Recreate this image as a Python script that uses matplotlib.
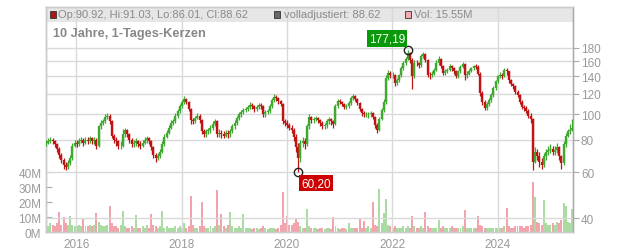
import matplotlib
matplotlib.use("Agg")
import matplotlib.pyplot as plt
from matplotlib.patches import Rectangle

plt.rcParams['font.family'] = ['Liberation Sans', 'DejaVu Sans']

# ---------------- data (semi-monthly candles) ----------------
start_year = 2015.421
periods_per_year = 24

closes = [
    78, 79, 80, 79, 77, 74, 70, 67, 64, 63, 65, 68,
    76, 78, 77, 79, 80, 78, 80, 79, 81, 79, 80, 76,
    90, 93, 94, 98, 99, 94, 83, 80, 79, 76, 76, 84,
    87, 84, 80, 77, 78, 79, 77, 76, 78, 80, 81, 79,
    75, 70, 68, 69, 72, 77, 82, 85, 89, 93, 94, 99,
    103, 108, 112, 115, 112, 105, 95, 94, 97, 99, 95, 86,
    84, 86, 87, 89, 92, 94, 84, 85, 84, 83, 85, 84,
    86, 90, 93, 97, 100, 102, 104, 105, 107, 109, 108, 105,
    107, 109, 108, 100, 102, 103, 108, 114, 117, 116, 113, 110,
    94, 93, 91, 89, 87, 82, 75, 68, 78, 79, 77, 90,
    98, 95, 96, 97, 95, 93, 90, 91, 94, 96, 94, 92,
    108, 113, 112, 110, 107, 108, 111, 116, 118, 115, 111, 105,
    101, 100, 100, 100, 101, 98, 91, 87, 96, 104, 112, 138,
    144, 141, 142, 132, 135, 141, 150, 157, 163, 172, 162, 140,
    158, 157, 154, 168, 170, 162, 142, 141, 143, 148, 158, 163,
    153, 144, 146, 148, 153, 150, 146, 140, 146, 152, 156, 141,
    143, 147, 150, 153, 152, 143, 121, 112, 106, 110, 114, 119,
    126, 134, 140, 142, 140, 148, 146, 135, 131, 128, 122, 119,
    112, 107, 106, 103, 99, 96, 66, 72, 69, 66, 64, 69,
    72, 73, 74, 72, 73, 75, 69, 65, 77, 83, 86, 87,
    88.62,
]

highs = [
    80, 81, 82, 81, 80, 78, 75, 71, 68, 66, 67, 70,
    78, 80, 80, 81, 82, 81, 82, 82, 83, 82, 82, 81,
    91, 95, 96, 100, 101, 100, 95, 84, 82, 80, 79, 88,
    89, 88, 85, 81, 80, 81, 80, 79, 80, 82, 83, 82,
    80, 76, 71, 71, 74, 79, 84, 87, 91, 95, 96, 101,
    105, 110, 114, 118, 116, 113, 106, 97, 99, 101, 100, 96,
    88, 88, 89, 91, 94, 96, 95, 88, 87, 86, 87, 87,
    88, 92, 95, 99, 102, 104, 106, 107, 109, 112, 111, 109,
    109, 111, 111, 109, 104, 105, 110, 116, 120, 119, 117, 114,
    111, 96, 95, 93, 91, 89, 84, 78, 80, 82, 81, 92,
    100, 99, 98, 99, 98, 96, 94, 93, 96, 98, 97, 95,
    110, 115, 115, 113, 111, 110, 113, 118, 120, 119, 116, 112,
    106, 103, 102, 102, 103, 102, 99, 93, 98, 106, 115, 142,
    148, 146, 145, 143, 138, 143, 153, 160, 166, 177.19, 173, 164,
    162, 161, 159, 171, 174, 172, 163, 145, 146, 151, 161, 167,
    165, 155, 149, 150, 156, 155, 152, 148, 148, 154, 159, 158,
    146, 149, 152, 155, 156, 154, 145, 123, 114, 112, 116, 121,
    128, 136, 142, 145, 144, 151, 150, 147, 137, 132, 130, 124,
    120, 114, 109, 108, 105, 101, 97, 75, 74, 72, 68, 71,
    74, 76, 77, 76, 76, 78, 76, 70, 79, 85, 88, 92,
    96,
]

lows = [
    76, 77, 78, 77, 75, 72, 68, 65, 62, 61, 62, 64,
    67, 75, 75, 76, 78, 76, 77, 77, 78, 77, 77, 74,
    75, 88, 91, 93, 96, 92, 81, 78, 76, 74, 74, 75,
    82, 82, 78, 75, 75, 76, 75, 74, 75, 77, 78, 77,
    73, 68, 66, 67, 68, 71, 76, 81, 84, 88, 91, 93,
    97, 101, 106, 110, 110, 103, 92, 92, 93, 96, 93, 84,
    82, 82, 84, 85, 87, 90, 82, 82, 81, 81, 82, 81,
    82, 85, 88, 91, 95, 98, 100, 102, 103, 105, 105, 102,
    103, 105, 105, 98, 98, 100, 101, 106, 112, 113, 110, 108,
    92, 90, 89, 87, 85, 79, 72, 60.20, 66, 75, 74, 76,
    88, 93, 93, 94, 93, 90, 88, 88, 89, 92, 91, 89,
    91, 106, 110, 108, 105, 105, 106, 109, 114, 113, 109, 103,
    99, 98, 98, 97, 98, 96, 89, 85, 86, 95, 102, 110,
    136, 138, 138, 129, 130, 133, 139, 148, 155, 161, 158, 125,
    138, 153, 151, 152, 165, 159, 139, 137, 139, 141, 146, 155,
    151, 141, 142, 144, 146, 147, 143, 138, 138, 144, 150, 136,
    138, 141, 145, 148, 149, 141, 118, 109, 104, 104, 108, 112,
    117, 124, 132, 138, 137, 139, 142, 132, 128, 125, 120, 117,
    110, 105, 103, 101, 97, 93, 61, 65, 67, 63, 62, 63,
    67, 70, 71, 70, 70, 71, 67, 62, 64, 75, 82, 84,
    86.01,
]

volumes_m = [
    5, 4, 6, 5, 4, 6, 13.8, 5, 10, 6, 5, 10.7,
    5, 4, 4, 5, 4, 9.5, 4, 4, 5, 4, 5, 13,
    7, 5, 4, 4, 5, 17.4, 6, 4, 4, 3, 5, 14.3,
    4, 3, 3, 4, 3, 11.7, 3, 3, 4, 3, 5, 3,
    12.4, 5, 4, 3, 4, 14.5, 3, 4, 3, 3, 3, 4,
    3, 4, 3, 6, 3, 4, 24.5, 5, 3, 3, 4, 20,
    4, 3, 3, 4, 3, 4, 28, 5, 12.4, 4, 3, 5,
    13.8, 4, 3, 3, 4, 3, 12, 3, 3, 3, 2.5, 3,
    3, 2.5, 3, 4, 3, 2.5, 3, 3, 3, 2.5, 3, 5,
    26.7, 6, 11, 5, 5, 6, 9, 7, 4, 3, 3, 15.5,
    4, 3, 3, 3, 2.5, 3, 3, 2.5, 3, 3, 2.5, 10,
    4, 3, 2.5, 3, 3, 2.5, 6, 3, 3, 3, 3, 9,
    3, 7.6, 3, 4, 3, 20, 5, 4, 28.6, 6, 13, 22,
    5, 4, 3, 4, 3, 3, 3, 4, 3, 4, 3, 10.7,
    4, 3, 3, 4, 3, 13.8, 4, 3, 3, 3, 3, 8.3,
    3, 4, 3, 3, 3, 4, 3, 3, 3, 3, 4, 14.8,
    3, 3, 3, 3, 3, 11, 5, 4, 3, 3, 3, 3,
    3, 3, 3, 3, 3, 4, 16.2, 4, 3, 3, 4, 4,
    4, 4, 3, 4, 4, 5, 33.8, 23.3, 7, 6, 5, 21.4,
    6, 5, 5, 6, 5, 7, 6, 8, 19.5, 17.8, 7, 6,
    15.55,
]

first_open = 77
price_ticks = [40, 60, 80, 100, 120, 140, 160, 180]
vol_ticks_m = [0, 10, 20, 30, 40]
year_ticks = [2016, 2018, 2020, 2022, 2024]
high_mark = (165, 177.19, "177,19")
low_mark = (115, 60.20, "60,20")

assert len(closes) == len(highs) == len(lows) == len(volumes_m)

n = len(closes)
xs = [start_year + i / periods_per_year for i in range(n)]
opens = [first_open] + closes[:-1]
up = [c >= o for o, c in zip(opens, closes)]

GREEN = '#3ea82f'
RED = '#c01414'
VGREEN = '#a9dba2'
VPINK = '#f2a3ab'
GRID = '#d9d9d9'
TXT = '#9a9a9a'

# ---------------- figure ----------------
W, H = 632, 253
fig = plt.figure(figsize=(W / 100, H / 100), dpi=100)
left, right, top, bottom = 45.5, 572.6, 8, 233.3
pos = [left / W, (H - bottom) / H, (right - left) / W, (bottom - top) / H]

axv = fig.add_axes(pos)
axp = axv.twinx()

# volume axis (left)
vmax = (bottom - top) / 15.0 * 10.0
axv.set_ylim(0, vmax)
axv.set_xlim(start_year - 0.01, start_year + 10.005)
step = 1 / periods_per_year
axv.bar(xs, volumes_m, width=step * 0.9,
        color=[VGREEN if u else VPINK for u in up], linewidth=0, zorder=2)
axv.set_yticks(vol_ticks_m)
axv.set_yticklabels([f"{v}M" for v in vol_ticks_m])
axv.set_xticks(year_ticks)
axv.set_xticklabels([str(y) for y in year_ticks])
axv.tick_params(axis='y', direction='in', length=4, color='#aaaaaa',
                labelcolor=TXT, labelsize=8.5, pad=3)
axv.tick_params(axis='x', length=0, labelcolor=TXT, labelsize=8.5, pad=4)

# header band
hb = (bottom - 23) / (bottom - top)
axv.add_patch(Rectangle((0, hb), 1, 1 - hb, transform=axv.transAxes,
                        facecolor='#e6e6e6', edgecolor='none', zorder=0))

# price axis (right, log)
axp.set_yscale('log')
ymin = 40 * 2.718281828 ** (-(bottom - 219.3) / 113.4)
ymax = 40 * 2.718281828 ** ((219.3 - top) / 113.4)
axp.set_ylim(ymin, ymax)
axp.set_yticks(price_ticks)
axp.set_yticklabels([str(t) for t in price_ticks])
axp.yaxis.set_minor_locator(matplotlib.ticker.NullLocator())
axp.tick_params(axis='y', direction='out', length=4, color='#aaaaaa',
                labelcolor=TXT, labelsize=8.5, pad=2)

for t in price_ticks:
    axp.axhline(t, color=GRID, lw=1.0, zorder=0.5)
for yv in year_ticks:
    axp.axvline(yv, color=GRID, lw=1.0, zorder=0.5)

cols = [GREEN if u else RED for u in up]
axp.vlines(xs, lows, highs, colors=cols, lw=0.9, zorder=3)
body_lo = [min(o, c) for o, c in zip(opens, closes)]
body_hi = [max(o, c) for o, c in zip(opens, closes)]
axp.vlines(xs, body_lo, body_hi, colors=cols, lw=1.7, zorder=3)

# extreme markers
for idx, val, lab, off, bg in [
        (high_mark[0], high_mark[1], high_mark[2], (-15, 8), '#0a990a'),
        (low_mark[0], low_mark[1], low_mark[2], (13, -8), '#cc0000')]:
    axp.plot([xs[idx]], [val], marker='o', ms=6, mfc='none', mec='#222222',
             mew=1.0, zorder=5)
    axp.annotate(lab, (xs[idx], val), xytext=off, textcoords='offset points',
                 ha='center', va='center', color='white', fontsize=8.5,
                 bbox=dict(boxstyle='square,pad=0.18', fc=bg, ec='none'),
                 zorder=6)

for a in (axv, axp):
    for s in a.spines.values():
        s.set_color('#cccccc')
        s.set_linewidth(1.0)
axp.spines['right'].set_color('#aaaaaa')
axv.spines['left'].set_color('#bbbbbb')

# header legend texts
def fx(x):
    return x / W

def fy(y):
    return 1 - y / H

hy = 15.5
for sx, col, txt, tx in [(50, '#b01515', 'Op:90.92, Hi:91.03, Lo:86.01, Cl:88.62', 57.5),
                         (274, '#666666', 'volladjustiert: 88.62', 284),
                         (405, '#f4a9b0', 'Vol: 15.55M', 414)]:
    fig.patches.append(Rectangle((fx(sx), fy(hy + 3.5)), 6 / W, 7 / H,
                                 transform=fig.transFigure, facecolor=col,
                                 edgecolor='#333333', lw=0.6, zorder=10))
    fig.text(fx(tx), fy(hy), txt, color='#8a8a8a', fontsize=8.0,
             ha='left', va='center', zorder=10)

fig.text(fx(53), fy(34), '10 Jahre, 1-Tages-Kerzen', color='#888888',
         fontsize=9.2, fontweight='bold', ha='left', va='center')

fig.savefig('out.png', dpi=100)
